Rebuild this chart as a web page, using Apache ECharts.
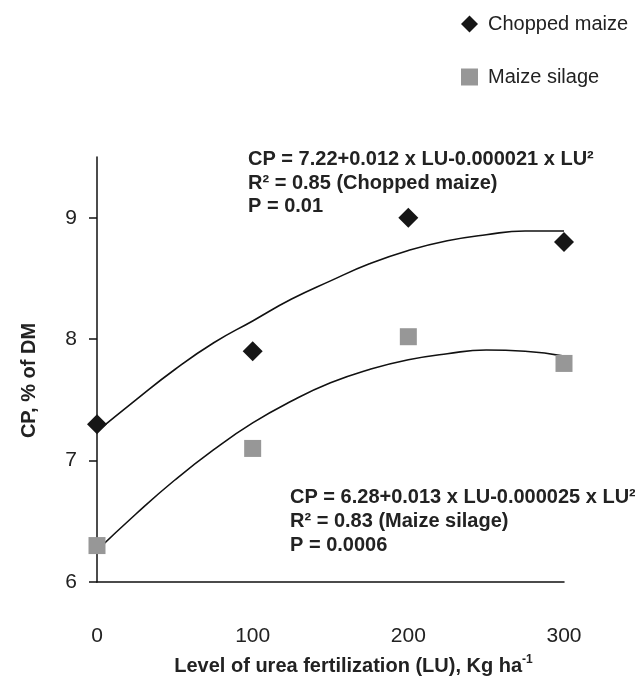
<!DOCTYPE html>
<html>
<head>
<meta charset="utf-8">
<script src="https://cdn.jsdelivr.net/npm/echarts@6/dist/echarts.min.js"></script>
<style>
  html, body { margin: 0; padding: 0; background: #fff; }
  #main { width: 635px; height: 681px; }
</style>
</head>
<body>
<div id="main"></div>
<script>
// 数据：施肥水平与CP含量
const levels = [0, 100, 200, 300];
const choppedMaize = [7.3, 7.9, 9.0, 8.8];
const maizeSilage = [6.3, 7.1, 8.02, 7.8];

// 拟合曲线（从图上读出的点）
const fitLevels = [0, 25, 50, 75, 100, 125, 150, 175, 200, 225, 250, 275, 300];
const choppedFit = [7.24, 7.50, 7.75, 7.97, 8.15, 8.33, 8.48, 8.62, 8.73, 8.81, 8.86, 8.89, 8.89];
const silageFit = [6.26, 6.56, 6.84, 7.09, 7.31, 7.49, 7.64, 7.75, 7.83, 7.88, 7.91, 7.90, 7.86];

const yTicks = [6, 7, 8, 9];
const xTicks = [0, 100, 200, 300];

const FONT = "'Liberation Sans Narrow', 'Arial Narrow', 'Liberation Sans', sans-serif";

function pairs(xs, ys) {
  return xs.map(function (x, i) { return [x, ys[i]]; });
}

var chart = echarts.init(document.getElementById('main'));

var option = {
  animation: false,
  grid: { left: 97, right: 71, top: 157, bottom: 86 },
  legend: {
    orient: 'vertical',
    left: 456,
    top: 9,
    itemWidth: 17,
    itemHeight: 17,
    itemGap: 33,
    textStyle: { fontFamily: FONT, fontSize: 20, color: '#222', padding: [0, 0, 0, 5] },
    data: [
      { name: 'Chopped maize', icon: 'diamond' },
      { name: 'Maize silage', icon: 'rect' }
    ]
  },
  xAxis: {
    type: 'value',
    min: 0,
    max: 300,
    interval: 100,
    splitLine: { show: false },
    axisTick: { show: false },
    axisLine: { lineStyle: { color: '#111', width: 1.5 } },
    axisLabel: { fontFamily: FONT, fontSize: 21, color: '#222', margin: 44, customValues: xTicks },
    name: '{b|Level of urea fertilization (LU), Kg ha}{s|-1}',
    nameLocation: 'middle',
    nameGap: 72,
    nameTextStyle: {
      padding: [0, 0, 0, 46],
      rich: {
        b: { fontFamily: FONT, fontSize: 20, fontWeight: 'bold', color: '#222', lineHeight: 24 },
        s: { fontFamily: FONT, fontSize: 12, fontWeight: 'bold', color: '#222', lineHeight: 24, verticalAlign: 'top', padding: [0, 0, 8, 0] }
      }
    }
  },
  yAxis: {
    type: 'value',
    min: 6,
    max: 9.5,
    interval: 1,
    splitLine: { show: false },
    axisLine: { show: true, lineStyle: { color: '#111', width: 1.5 } },
    axisTick: { show: true, inside: false, length: 8, lineStyle: { color: '#111', width: 1.5 }, customValues: yTicks },
    axisLabel: { fontFamily: FONT, fontSize: 21, color: '#222', margin: 20, customValues: yTicks },
    name: 'CP, % of DM',
    nameLocation: 'middle',
    nameGap: 58,
    nameTextStyle: { fontFamily: FONT, fontSize: 20, fontWeight: 'bold', color: '#222', padding: [0, 22, 0, 0] }
  },
  series: [
    {
      name: 'Chopped maize fit',
      type: 'line',
      smooth: true,
      symbol: 'none',
      z: 2,
      lineStyle: { color: '#111', width: 1.6 },
      data: pairs(fitLevels, choppedFit)
    },
    {
      name: 'Maize silage fit',
      type: 'line',
      smooth: true,
      symbol: 'none',
      z: 2,
      lineStyle: { color: '#111', width: 1.6 },
      data: pairs(fitLevels, silageFit)
    },
    {
      name: 'Chopped maize',
      type: 'scatter',
      symbol: 'diamond',
      symbolSize: 20,
      z: 3,
      itemStyle: { color: '#161616', opacity: 1 },
      data: pairs(levels, choppedMaize)
    },
    {
      name: 'Maize silage',
      type: 'scatter',
      symbol: 'rect',
      symbolSize: 17,
      z: 3,
      itemStyle: { color: '#979797', opacity: 1 },
      data: pairs(levels, maizeSilage)
    }
  ],
  graphic: [
    {
      type: 'text',
      left: 248,
      top: 148,
      style: {
        text: 'CP = 7.22+0.012 x LU-0.000021 x LU²\nR² = 0.85 (Chopped maize)\nP = 0.01',
        fontFamily: FONT,
        fontSize: 20,
        fontWeight: 'bold',
        lineHeight: 23.5,
        fill: '#222'
      }
    },
    {
      type: 'text',
      left: 290,
      top: 485,
      style: {
        text: 'CP = 6.28+0.013 x LU-0.000025 x LU²\nR² = 0.83 (Maize silage)\nP = 0.0006',
        fontFamily: FONT,
        fontSize: 20,
        fontWeight: 'bold',
        lineHeight: 24,
        fill: '#222'
      }
    }
  ]
};

chart.setOption(option);
</script>
</body>
</html>
